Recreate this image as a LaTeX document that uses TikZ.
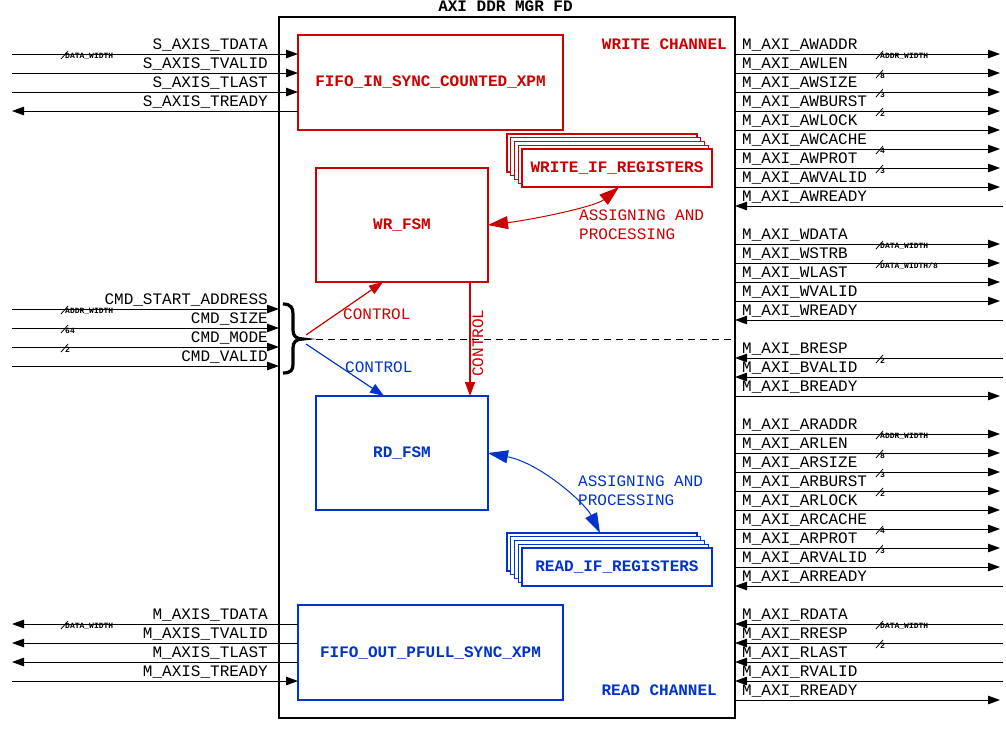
\documentclass[tikz,border=0pt]{standalone}
\usepackage{fontspec}
\setmainfont{Liberation Mono}
\usetikzlibrary{arrows.meta}
\definecolor{wred}{HTML}{CC0000}
\definecolor{rblue}{HTML}{0033CC}
\newcommand{\busmk}[3]{%
  \draw[busl] (#1,#2+5) -- (#1+7,#2-3);
  \node[bus] (bk#1-#2) at (#1+4,#2-0.5) {#3};}
\begin{document}
\begin{tikzpicture}[x=1pt,y=-1pt,
  lbl/.style={font=\fontsize{16}{16}\selectfont, inner sep=0pt},
  blabel/.style={font=\fontsize{16}{16}\selectfont\bfseries, inner sep=0pt},
  blk/.style={draw, line width=1.2pt, inner sep=0pt, outer sep=0pt, fill=white},
  bus/.style={font=\fontsize{8}{8}\selectfont\bfseries, inner sep=0pt, anchor=north west},
  busl/.style={line width=0.8pt},
  sig/.style={line width=1pt},
  tip/.style={-{Triangle[length=12pt,width=8.5pt]}},
  ctip/.style={-{Triangle[length=14pt,width=10pt]}},
  dtip/.style={{Triangle[length=20pt,width=13pt]}-{Triangle[length=20pt,width=13pt]}}]
\useasboundingbox (0,0) rectangle (1006,728);

% main box
\node[draw, line width=2.5pt, minimum width=456pt, minimum height=701pt, inner sep=0pt, outer sep=0pt] (main) at (507,367.5) {};
\node[blabel, anchor=base] (title) at (505.5,11) {AXI DDR MGR FD};

% blocks
\node[blk, draw=wred, minimum width=265pt, minimum height=95pt] (fin) at (430.5,82.5) {};
\node[blabel, text=wred] (fint) at (fin.center) {FIFO\_IN\_SYNC\_COUNTED\_XPM};
\node[blabel, text=wred, anchor=base east] (wch) at (727,49) {WRITE CHANNEL};

\node[blk, draw=wred, minimum width=172pt, minimum height=114pt] (wr) at (402,225) {};
\node[blabel, text=wred] (wrt) at (wr.center) {WR\_FSM};

\foreach \i in {0,...,3}
  \node[blk, draw=wred, minimum width=190pt, minimum height=38pt] (wreg\i) at (602+3.75*\i,153+3.75*\i) {};
\node[blk, draw=wred, minimum width=190pt, minimum height=38pt] (wreg) at (617,168) {};
\node[blabel, text=wred] (wregt) at (wreg.center) {WRITE\_IF\_REGISTERS};

\node[blk, draw=rblue, minimum width=172pt, minimum height=114pt] (rd) at (402,453) {};
\node[blabel, text=rblue] (rdt) at (rd.center) {RD\_FSM};

\foreach \i in {0,...,3}
  \node[blk, draw=rblue, minimum width=190pt, minimum height=38pt] (rreg\i) at (602+3.75*\i,552+3.75*\i) {};
\node[blk, draw=rblue, minimum width=190pt, minimum height=38pt] (rreg) at (617,567) {};
\node[blabel, text=rblue] (rregt) at (rreg.center) {READ\_IF\_REGISTERS};

\node[blk, draw=rblue, minimum width=265pt, minimum height=95pt] (fout) at (430.5,652.5) {};
\node[blabel, text=rblue] (foutt) at (fout.center) {FIFO\_OUT\_PFULL\_SYNC\_XPM};
\node[blabel, text=rblue, anchor=base east] (rch) at (717,695) {READ CHANNEL};

% brace and control
\draw[line width=3.2pt] (283,304) .. controls (291,304) and (293,308) .. (293,314) -- (293,330)
  .. controls (293,336) and (296,339) .. (303,339) .. controls (296,339) and (293,342) .. (293,348)
  -- (293,364) .. controls (293,370) and (291,373) .. (283,373);
\coordinate (btip) at (304,339);
\coordinate (bra) at (306,335);
\coordinate (brb) at (306,344);
\draw[line width=1pt, dash pattern=on 7pt off 5pt] (btip) -- (btip -| main.east);
\draw[wred, line width=1.2pt, ctip] (bra) -- ([xshift=-19pt]wr.south);
\draw[rblue, line width=1.2pt, ctip] (brb) -- ([xshift=-18pt]rd.north);
\node[lbl, text=wred, anchor=base west] (c1) at (343,319) {CONTROL};
\node[lbl, text=rblue, anchor=base west] (c2) at (345,372) {CONTROL};
\draw[wred, line width=1.2pt, ctip] ([xshift=-18pt]wr.south east) -- ([xshift=-18pt]rd.north east);
\node[lbl, text=wred, rotate=90, anchor=base] (c3) at (483,343) {CONTROL};

% assigning arrows
\draw[wred, line width=1pt, dtip] (wr.east) .. controls (530,220) and (595,207) .. ([xshift=2pt]wreg.south);
\node[lbl, text=wred, anchor=base west] (a1) at (579,220) {ASSIGNING AND};
\node[lbl, text=wred, anchor=base west] (a2) at (579,239) {PROCESSING};
\draw[rblue, line width=1pt, dtip] (rd.east) .. controls (540,463) and (585,503) .. ([xshift=-2pt]rreg0.north);
\node[lbl, text=rblue, anchor=base west] (a3) at (578,486) {ASSIGNING AND};
\node[lbl, text=rblue, anchor=base west] (a4) at (578,505) {PROCESSING};

% left S_AXIS
\foreach \y/\s in {54/TDATA,73/TVALID,92/TLAST} {
  \coordinate (sl\y) at (12,\y);
  \draw[sig,tip] (sl\y) -- (sl\y -| fin.west);
  \node[lbl, anchor=base east] (lsl\y) at (268,\y-4.5) {S\_AXIS\_\s};
}
\coordinate (sl111) at (12,111);
\draw[sig,tip] (sl111 -| fin.west) -- (sl111);
\node[lbl, anchor=base east] (lsl111) at (268,106.5) {S\_AXIS\_TREADY};
\busmk{61}{54}{DATA\_WIDTH}

% left CMD
\foreach \y/\s in {309/START\_ADDRESS,328/SIZE,347/MODE,366/VALID} {
  \coordinate (cl\y) at (12,\y);
  \draw[sig,tip] (cl\y) -- (cl\y -| main.west);
  \node[lbl, anchor=base east] (lcl\y) at (268,\y-4.5) {CMD\_\s};
}
\busmk{61}{309}{ADDR\_WIDTH}
\busmk{61}{328}{64}
\busmk{61}{347}{2}

% left M_AXIS
\foreach \y/\s in {624/TDATA,643/TVALID,662/TLAST} {
  \coordinate (ml\y) at (12,\y);
  \draw[sig,tip] (ml\y -| fout.west) -- (ml\y);
  \node[lbl, anchor=base east] (lml\y) at (268,\y-4.5) {M\_AXIS\_\s};
}
\coordinate (ml681) at (12,681);
\draw[sig,tip] (ml681) -- (ml681 -| fout.west);
\node[lbl, anchor=base east] (lml681) at (268,676.5) {M\_AXIS\_TREADY};
\busmk{61}{624}{DATA\_WIDTH}

% right outputs
\foreach \y/\s in {54/AWADDR,73/AWLEN,92/AWSIZE,111/AWBURST,130/AWLOCK,149/AWCACHE,168/AWPROT,187/AWVALID,244/WDATA,263/WSTRB,282/WLAST,301/WVALID,396/BREADY,434/ARADDR,453/ARLEN,472/ARSIZE,491/ARBURST,510/ARLOCK,529/ARCACHE,548/ARPROT,567/ARVALID,700/RREADY} {
  \coordinate (ro\y) at (1000,\y);
  \draw[sig,tip] (ro\y -| main.east) -- (ro\y);
  \node[lbl, anchor=base west] (lro\y) at (742,\y-4.5) {M\_AXI\_\s};
}
% right inputs
\foreach \y/\s in {206/AWREADY,320/WREADY,358/BRESP,377/BVALID,586/ARREADY,624/RDATA,643/RRESP,662/RLAST,681/RVALID} {
  \coordinate (ri\y) at (1003,\y);
  \draw[sig,tip] (ri\y) -- (ri\y -| main.east);
  \node[lbl, anchor=base west] (lri\y) at (742,\y-4.5) {M\_AXI\_\s};
}
\busmk{876}{54}{ADDR\_WIDTH}
\busmk{876}{73}{8}
\busmk{876}{92}{3}
\busmk{876}{111}{2}
\busmk{876}{149}{4}
\busmk{876}{168}{3}
\busmk{876}{244}{DATA\_WIDTH}
\busmk{876}{263}{DATA\_WIDTH/8}
\busmk{876}{358}{2}
\busmk{876}{434}{ADDR\_WIDTH}
\busmk{876}{453}{8}
\busmk{876}{472}{3}
\busmk{876}{491}{2}
\busmk{876}{529}{4}
\busmk{876}{548}{3}
\busmk{876}{624}{DATA\_WIDTH}
\busmk{876}{643}{2}
\end{tikzpicture}
\end{document}
